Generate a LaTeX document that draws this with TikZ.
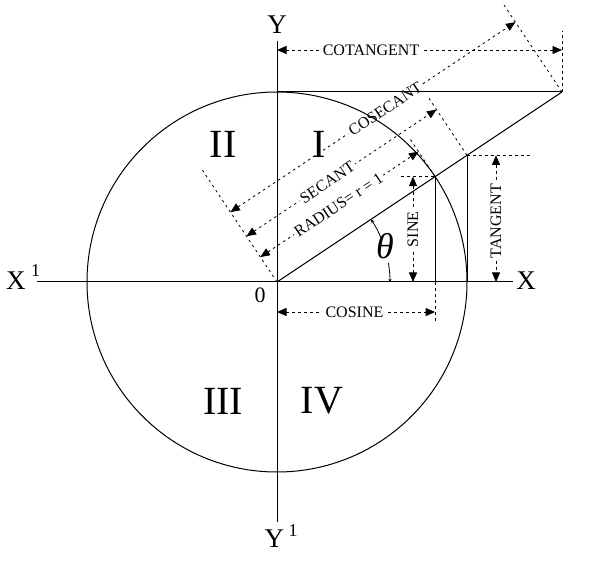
\documentclass[tikz,border=0pt]{standalone}
\usepackage{fontspec}
\setmainfont{Liberation Serif}
\usetikzlibrary{arrows.meta,calc}
\begin{document}
\begin{tikzpicture}[x=1pt,y=-1pt,
  sline/.style={line width=1pt},
  dline/.style={line width=0.9pt, dash pattern=on 3pt off 3pt},
  sdline/.style={line width=0.8pt, dash pattern=on 2.5pt off 3.5pt},
  dim/.style={dline, {Triangle[length=9.5pt,width=8pt]}-{Triangle[length=9.5pt,width=8pt]}},
  sdim/.style={sdline, {Triangle[length=9.5pt,width=8pt]}-{Triangle[length=9.5pt,width=8pt]}},
  lbl/.style={font=\fontsize{16}{16}\selectfont, fill=white, inner sep=2pt},
  big/.style={font=\fontsize{40}{40}\selectfont, inner sep=0pt},
  axlbl/.style={font=\fontsize{27}{27}\selectfont, inner sep=0pt},
  small arc/.style={line width=0.8pt},
]
\useasboundingbox (0,0) rectangle (600,561);
% key points
\coordinate (O) at (277,282);
\coordinate (P) at (435.09,176.61);
\coordinate (T) at (467,155.33);
\coordinate (C) at (562,92);
\coordinate (Yc) at (277,92);
\coordinate (Xl) at (37,282);
\coordinate (Xr) at (513,282);
\coordinate (Yt) at (277,41);
\coordinate (Yb) at (277,522);
\coordinate (Pf) at (435.09,282);
\coordinate (Tf) at (467,282);
\coordinate (Pd) at (435.09,323);
\coordinate (Pl) at (401,176.61);
\coordinate (Tr) at (533,155.33);
\coordinate (Cu) at (562,31);
% extension lines (perpendicular to radius)
\coordinate (On) at (201.56,168.84);
\coordinate (Pn) at (410.13,139.17);
\coordinate (Tn) at (428.17,97.09);
\coordinate (Cn) at (502.09,2.14);
\draw[sdline] (O) -- (On);
\draw[sdline] (P) -- (Pn);
\draw[sdline] (T) -- (Tn);
\draw[sdline] (C) -- (Cn);
% horizontal / vertical extension lines
\draw[dline] (Pf) -- (Pd);
\draw[dline] (Pl) -- (P);
\draw[dline] (T) -- (Tr);
\draw[dline] (C) -- (Cu);
% slanted dimension arrows
\coordinate (ra) at (260.36,257.04);
\coordinate (rb) at (418.45,151.65);
\coordinate (sa) at (246.49,236.24);
\coordinate (sb) at (436.49,109.57);
\coordinate (ca) at (230.41,212.11);
\coordinate (cb) at (515.41,22.11);
\draw[sdim] (ra) -- node[lbl, pos=0.495, rotate=33.69] (radl) {RADIUS= r = 1} (rb);
\draw[sdim] (sa) -- node[lbl, pos=0.425, rotate=33.69] (secl) {SECANT} (sb);
\draw[sdim] (ca) -- node[lbl, pos=0.543, rotate=33.69] (cscl) {COSECANT} (cb);
% straight dimension arrows
\coordinate (cta) at (277,50);
\coordinate (ctb) at (562,50);
\draw[dim] (cta) -- node[lbl, pos=0.33, inner xsep=4pt] (cotl) {COTANGENT} (ctb);
\coordinate (csa) at (277,312);
\coordinate (csb) at (435.09,312);
\draw[dim] (csa) -- node[lbl, pos=0.49, inner xsep=4pt] (cosl) {COSINE} (csb);
\coordinate (sna) at (413,176.61);
\coordinate (snb) at (413,282);
\draw[dim] (sna) -- node[lbl, pos=0.5, rotate=90] (sinl) {SINE} (snb);
\coordinate (tga) at (496,155.33);
\coordinate (tgb) at (496,282);
\draw[dim] (tga) -- node[lbl, pos=0.52, rotate=90] (tanl) {TANGENT} (tgb);
% solid geometry
\draw[sline] (Xl) -- (Xr);
\draw[sline] (Yt) -- (Yb);
\draw[sline] (O) circle[radius=190];
\draw[sline] (Yc) -- (C);
\draw[sline] (O) -- (C);
\draw[sline] (P) -- (Pf);
\draw[sline] (T) -- (Tf);
% theta arc
\draw[small arc, -{Stealth[length=4pt,width=3.5pt]}] (O) ++(-22:113) arc[start angle=-22, end angle=-33.69, radius=113];
\draw[small arc, -{Stealth[length=3pt,width=3pt]}] (O) ++(-9.7:113) arc[start angle=-9.7, end angle=0, radius=113];
\node[font=\fontsize{36}{36}\selectfont\itshape, inner sep=0pt] (th) at (385,246.5) {θ};
% quadrant labels
\node[big] (q1) at (319,144) {I};
\node[big] (q2) at (223,144) {II};
\node[big] (q3) at (223,401) {III};
\node[big] (q4) at (322,401) {IV};
% axis labels
\node[axlbl] (xl) at (526,281) {X};
\node[axlbl] (yl) at (277,24.5) {Y};
\node[axlbl, anchor=base west] (xpl) at (6,290) {X\hspace{5.5pt}\raisebox{13pt}{\fontsize{18}{18}\selectfont 1}};
\node[axlbl, anchor=base west] (ypl) at (264.5,547) {Y\hspace{4.5pt}\raisebox{11pt}{\fontsize{18}{18}\selectfont 1}};
\node[font=\fontsize{22}{22}\selectfont, inner sep=0pt] (zero) at (260,295.5) {0};
\end{tikzpicture}
\end{document}
